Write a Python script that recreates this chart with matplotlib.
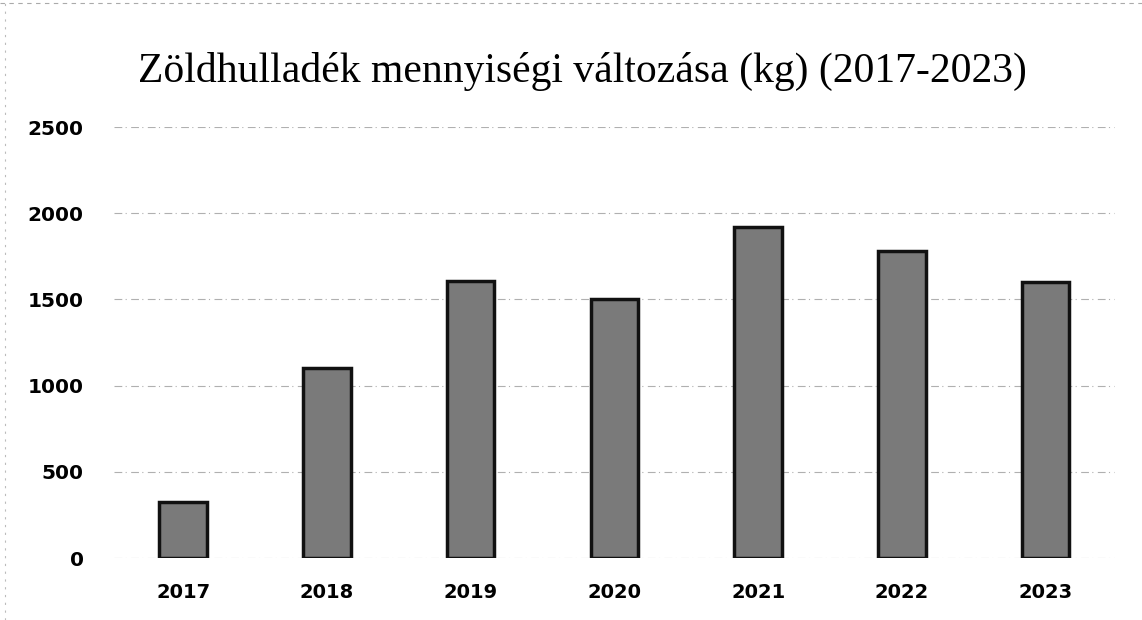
import matplotlib
matplotlib.use("Agg")
import matplotlib.pyplot as plt

# Adatok
years = ["2017", "2018", "2019", "2020", "2021", "2022", "2023"]
amounts = [325, 1105, 1605, 1500, 1920, 1780, 1600]
y_ticks = [0, 500, 1000, 1500, 2000, 2500]
title = "Zöldhulladék mennyiségi változása (kg) (2017-2023)"

fig = plt.figure(figsize=(11.42, 6.2), dpi=100)
ax = fig.add_axes([0.10, 0.10, 0.876, 0.695])

x = range(len(years))
ax.bar(x, amounts, width=0.33, color="#7a7a7a", edgecolor="#111111",
       linewidth=2.5, zorder=3)

ax.set_ylim(0, 2500)
ax.set_xlim(-0.48, 6.48)
ax.set_yticks(y_ticks)
ax.set_yticklabels([str(v) for v in y_ticks], fontsize=14.5, fontweight="bold",
                   family="DejaVu Sans")
ax.set_xticks(list(x))
ax.set_xticklabels(years, fontsize=14, fontweight="bold", family="DejaVu Sans")
ax.tick_params(length=0, pad=22, axis="y")
ax.tick_params(length=0, pad=18, axis="x")

# Racsvonalak (szkennelt, halvany)
ax.yaxis.grid(True, color="#b0b0b0", linestyle=(0, (7, 3, 1, 4)),
              linewidth=0.8, zorder=0)
for s in ax.spines.values():
    s.set_visible(False)

fig.text(0.51, 0.885, title, ha="center", va="center", fontsize=30,
         family="Liberation Serif")

# halvany keret a lap tetejen
fig.add_artist(plt.Line2D([0.0, 1.0], [0.995, 0.995], color="#aaaaaa",
                          linestyle=(0, (4, 4)), linewidth=0.8))
fig.add_artist(plt.Line2D([0.004, 0.004], [0.0, 1.0], color="#bbbbbb",
                          linestyle=(0, (2, 5)), linewidth=0.8))

fig.savefig("out.png", dpi=100)
